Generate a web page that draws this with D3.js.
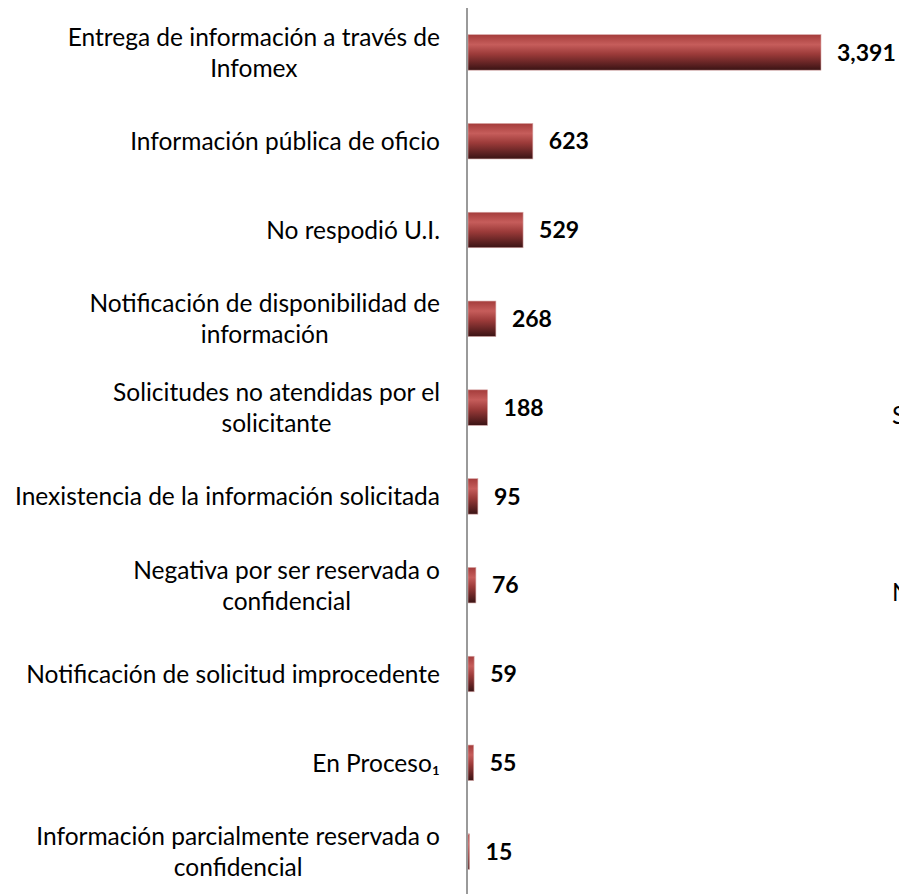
<!DOCTYPE html>
<html>
<head>
<meta charset="utf-8">
<script src="https://cdn.jsdelivr.net/npm/d3@7"></script>
<style>
  body { margin: 0; background: #fff; }
  svg { display: block; }
</style>
</head>
<body>
<script>
// categories (each label split into its display lines) and values
var categories = [
  ["Entrega de información a través de", "Infomex"],
  ["Información pública de oficio"],
  ["No respodió U.I."],
  ["Notificación de disponibilidad de", "información"],
  ["Solicitudes no atendidas por el", "solicitante"],
  ["Inexistencia de la información solicitada"],
  ["Negativa por ser reservada o", "confidencial"],
  ["Notificación de solicitud improcedente"],
  ["En Proceso\u2081"],
  ["Información parcialmente reservada o", "confidencial"]
];
var values = [3391, 623, 529, 268, 188, 95, 76, 59, 55, 15];

// letters of a neighbouring chart cut off at the right edge
var edgeLetters = [{t: "S", y: 415}, {t: "N", y: 592}];

var width = 899, height = 894;
var labelRight = 440;

var svg = d3.select("body").append("svg")
    .attr("width", width)
    .attr("height", height);

var data = categories.map(function(c, i) {
    return {key: i, lines: c, value: values[i]};
});

// scales
var yScale = d3.scaleBand()
    .domain(data.map(function(d) { return d.key; }))
    .range([8, 896])
    .paddingInner(0.6)
    .paddingOuter(0.3);

var xScale = d3.scaleLinear()
    .domain([0, 3391])
    .range([468, 821]);

// cylinder-like gradient of the bars
var grad = svg.append("defs").append("linearGradient")
    .attr("id", "barGrad")
    .attr("x1", 0).attr("y1", 0).attr("x2", 0).attr("y2", 1);
grad.append("stop").attr("offset", "0%").attr("stop-color", "#a43c3b");
grad.append("stop").attr("offset", "28%").attr("stop-color", "#c65d5b");
grad.append("stop").attr("offset", "55%").attr("stop-color", "#9b3a39");
grad.append("stop").attr("offset", "100%").attr("stop-color", "#3a1314");

// bars
svg.selectAll("rect.bar")
    .data(data)
    .enter()
    .append("rect")
    .attr("class", "bar")
    .attr("x", xScale(0))
    .attr("y", function(d) { return yScale(d.key); })
    .attr("width", function(d) { return xScale(d.value) - xScale(0); })
    .attr("height", yScale.bandwidth())
    .attr("fill", "url(#barGrad)")
    .attr("stroke", "#d9a9a8")
    .attr("stroke-width", 0.6);

// vertical axis line
svg.append("line")
    .attr("x1", 467).attr("x2", 467)
    .attr("y1", 8).attr("y2", height)
    .attr("stroke", "#9a9a9a")
    .attr("stroke-width", 2);

// value labels
svg.selectAll("text.value")
    .data(data)
    .enter()
    .append("text")
    .attr("class", "value")
    .attr("x", function(d) { return xScale(d.value) + 16; })
    .attr("y", function(d) { return yScale(d.key) + yScale.bandwidth() / 2; })
    .attr("dy", "0.36em")
    .attr("font-family", "Lato, sans-serif")
    .attr("font-weight", "bold")
    .attr("font-size", "23px")
    .attr("fill", "#000")
    .text(function(d) { return d3.format(",")(d.value); });

// category labels, lines centred on each other, block right aligned
var lineH = 31;
var labels = svg.selectAll("g.label")
    .data(data)
    .enter()
    .append("g")
    .attr("class", "label");

labels.each(function(d) {
    var g = d3.select(this);
    var cy = yScale(d.key) + yScale.bandwidth() / 2;
    var n = d.lines.length;
    var texts = g.selectAll("text")
        .data(d.lines)
        .enter()
        .append("text")
        .attr("y", function(l, i) { return cy + (i - (n - 1) / 2) * lineH; })
        .attr("dy", "0.36em")
        .attr("font-family", "Lato, sans-serif")
        .attr("font-size", "24.5px")
        .attr("fill", "#000")
        .attr("text-anchor", "middle")
        .text(function(l) { return l; });
    var maxW = 0;
    texts.each(function() { maxW = Math.max(maxW, this.getComputedTextLength()); });
    texts.attr("x", labelRight - maxW / 2);
});

// cut-off letters at the right edge
svg.selectAll("text.edge")
    .data(edgeLetters)
    .enter()
    .append("text")
    .attr("class", "edge")
    .attr("x", 892)
    .attr("y", function(d) { return d.y; })
    .attr("dy", "0.36em")
    .attr("font-family", "Lato, sans-serif")
    .attr("font-size", "24.5px")
    .attr("fill", "#000")
    .text(function(d) { return d.t; });
</script>
</body>
</html>
